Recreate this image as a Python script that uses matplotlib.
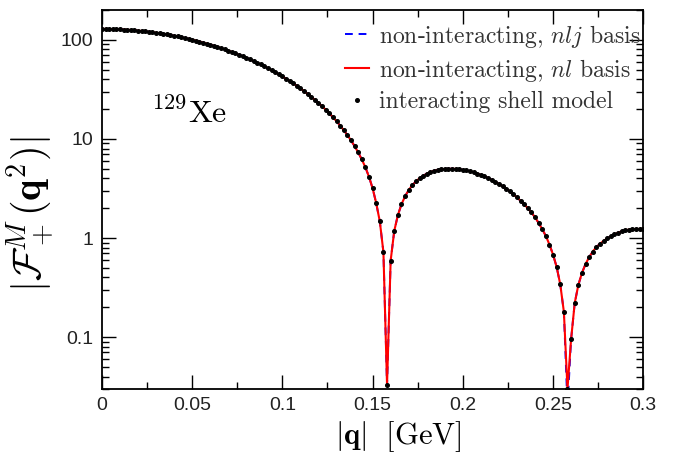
import numpy as np
import matplotlib
matplotlib.use("Agg")
import matplotlib.pyplot as plt
from matplotlib.ticker import MultipleLocator, LogLocator, NullFormatter, FixedLocator, FixedFormatter

# momentum transfer grid of the shell model points [GeV]
q = np.round(np.arange(151) * 0.002, 3)

# |F_+^M(q^2)|, one value per point
shell_vals = [
    129.0, 128.95, 128.8, 128.55, 128.19, 127.74, 127.19, 126.55, 125.8, 124.96,
    124.02, 123.0, 121.89, 120.68, 119.4, 118.02, 116.57, 115.04, 113.44, 111.76,
    110.02, 108.21, 106.33, 104.4, 102.41, 100.37, 98.28, 96.14, 93.96, 91.74,
    89.49, 87.21, 84.9, 82.57, 80.22, 77.85, 75.47, 73.09, 70.69, 68.3,
    65.91, 63.52, 61.14, 58.78, 56.43, 54.1, 51.79, 49.5, 47.24, 45.01,
    42.82, 40.66, 38.53, 36.45, 34.4, 32.4, 30.44, 28.54, 26.68, 24.86,
    23.1, 21.4, 19.74, 18.14, 16.59, 15.1, 13.66, 12.28, 10.96, 9.69,
    8.48, 7.32, 6.22, 5.18, 4.15, 3.18, 2.25, 1.47, 0.72, 0.033,
    0.59, 1.18, 1.7, 2.19, 2.64, 3.05, 3.41, 3.73, 4.01, 4.25,
    4.46, 4.63, 4.76, 4.87, 4.94, 4.98, 5.0, 5.0, 4.98, 4.94,
    4.88, 4.81, 4.72, 4.61, 4.48, 4.34, 4.2, 4.04, 3.87, 3.7,
    3.51, 3.34, 3.15, 2.96, 2.77, 2.57, 2.38, 2.19, 2.0, 1.81,
    1.62, 1.42, 1.23, 1.05, 0.86, 0.68, 0.51, 0.34, 0.18, 0.03,
    0.095, 0.22, 0.335, 0.443, 0.546, 0.64, 0.73, 0.81, 0.875, 0.935,
    0.99, 1.04, 1.09, 1.13, 1.17, 1.195, 1.215, 1.225, 1.232, 1.236,
    1.238,
]
# non-interacting curves lie on top of the shell model; nlj dips a bit deeper
nl_vals = list(shell_vals)
nlj_vals = list(shell_vals)
nlj_vals[129] = 0.02

xticks = [0, 0.05, 0.1, 0.15, 0.2, 0.25, 0.3]
xtick_labels = ["0", "0.05", "0.1", "0.15", "0.2", "0.25", "0.3"]
yticks = [0.1, 1, 10, 100]
ytick_labels = ["0.1", "1", "10", "100"]

plt.rcParams['mathtext.fontset'] = 'cm'
plt.rcParams['font.family'] = ['Liberation Sans', 'DejaVu Sans']

fig = plt.figure(figsize=(6.75, 4.57), dpi=100)
ax = fig.add_axes([0.151, 0.149, 0.802, 0.829])

ax.plot(q, nlj_vals, color='blue', ls=(0, (4, 3)), lw=1.4, label=r'non-interacting, $nlj$ basis')
ax.plot(q, nl_vals, color='red', lw=1.5, label=r'non-interacting, $nl$ basis')
ax.plot(q, shell_vals, ls='none', marker='o', ms=2.6, color='black', label='interacting shell model')

ax.set_yscale('log')
ax.set_xlim(0, 0.3)
ax.set_ylim(0.03, 200)

ax.xaxis.set_major_locator(FixedLocator(xticks))
ax.xaxis.set_major_formatter(FixedFormatter(xtick_labels))
ax.xaxis.set_minor_locator(MultipleLocator(0.025))
ax.yaxis.set_major_locator(FixedLocator(yticks))
ax.yaxis.set_major_formatter(FixedFormatter(ytick_labels))
ax.yaxis.set_minor_locator(LogLocator(base=10, subs=np.arange(2, 10)))
ax.yaxis.set_minor_formatter(NullFormatter())

ax.tick_params(which='both', direction='in', top=True, right=True, labelsize=14,
               width=1.0, pad=6, labelcolor='#222222')
ax.tick_params(which='major', length=10)
ax.tick_params(which='minor', length=5)
for sp in ax.spines.values():
    sp.set_linewidth(1.3)

ax.set_xlabel(r'$|\mathbf{q}|\ \ [\mathrm{GeV}]$', fontsize=22)
ax.xaxis.label.set_va('center')
ax.xaxis.set_label_coords(0.547, -0.127)
ax.set_ylabel(r'$|\mathcal{F}_+^M(\mathbf{q}^2)|$', fontsize=29)
ax.yaxis.label.set_va('center')
ax.yaxis.set_label_coords(-0.133, 0.46)

ax.text(0.09, 0.725, r'$^{129}\mathrm{Xe}$', transform=ax.transAxes, fontsize=23, va='center')

leg = ax.legend(loc='upper left', bbox_to_anchor=(0.449, 0.967), frameon=False,
                handlelength=1.0, handletextpad=0.45, labelspacing=0.3,
                borderaxespad=0.0, borderpad=0.0, markerscale=1.0,
                prop={'family': 'cmr10', 'size': 17})
for t in leg.get_texts():
    t.set_color('#333333')

fig.savefig('out.png', dpi=100)
